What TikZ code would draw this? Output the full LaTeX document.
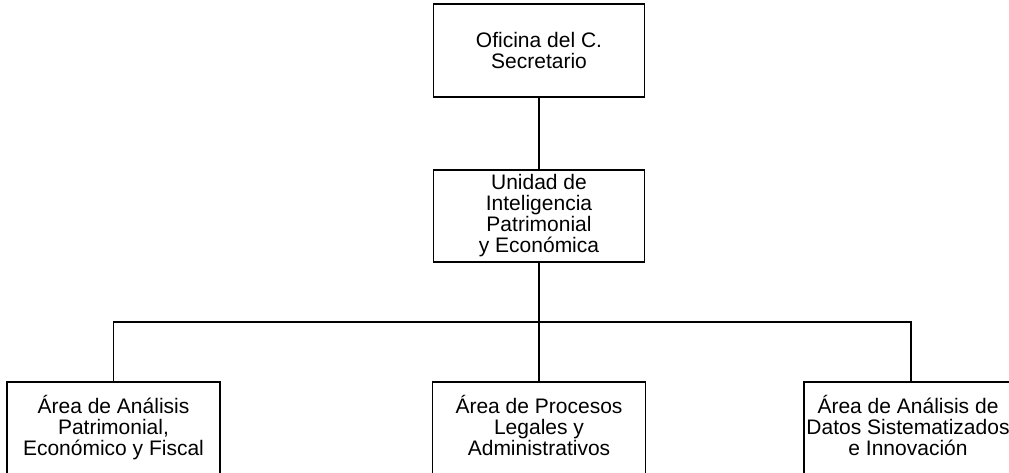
\documentclass[tikz,border=0pt]{standalone}
\usepackage{fontspec}
\setmainfont{Liberation Sans}
\begin{document}
\begin{tikzpicture}[x=1pt,y=-1pt,
  box/.style={draw=black, line width=1.5pt, inner sep=0pt, align=center,
    font=\fontsize{21}{21}\selectfont},
  link/.style={draw=black, line width=1.5pt}]
\useasboundingbox (0,0) rectangle (1009,472);
\clip (0,0) rectangle (1009,472);
\node[box, minimum width=211pt, minimum height=93pt] (sec) at (539,50.5) {Oficina del C.\\Secretario};
\node[box, minimum width=211pt, minimum height=92pt] (uipe) at (539,216) {Unidad de\\Inteligencia\\Patrimonial\\y Económica};
\node[box, anchor=north] (a1) at (113.5,381) {\parbox[t][100pt][t]{213pt}{\centering\rule{0pt}{32pt}Área de Análisis\\Patrimonial,\\Económico y Fiscal}};
\node[box, anchor=north] (a2) at (539,381) {\parbox[t][100pt][t]{213pt}{\centering\rule{0pt}{32pt}Área de Procesos\\Legales y\\Administrativos}};
\node[box, anchor=north] (a3) at (911,381) {\parbox[t][100pt][t]{214pt}{\centering\rule{0pt}{32pt}\hspace*{-6pt}Área de Análisis de\\\hspace*{-6pt}Datos Sistematizados\\\hspace*{-6pt}e Innovación}};
\coordinate (j) at (539,322);
\draw[link] (sec) -- (uipe);
\draw[link] (uipe) -- (a2);
\draw[link] (a1.north) -- (a1.north |- j) -- (a3.north |- j) -- (a3.north);
\end{tikzpicture}
\end{document}
